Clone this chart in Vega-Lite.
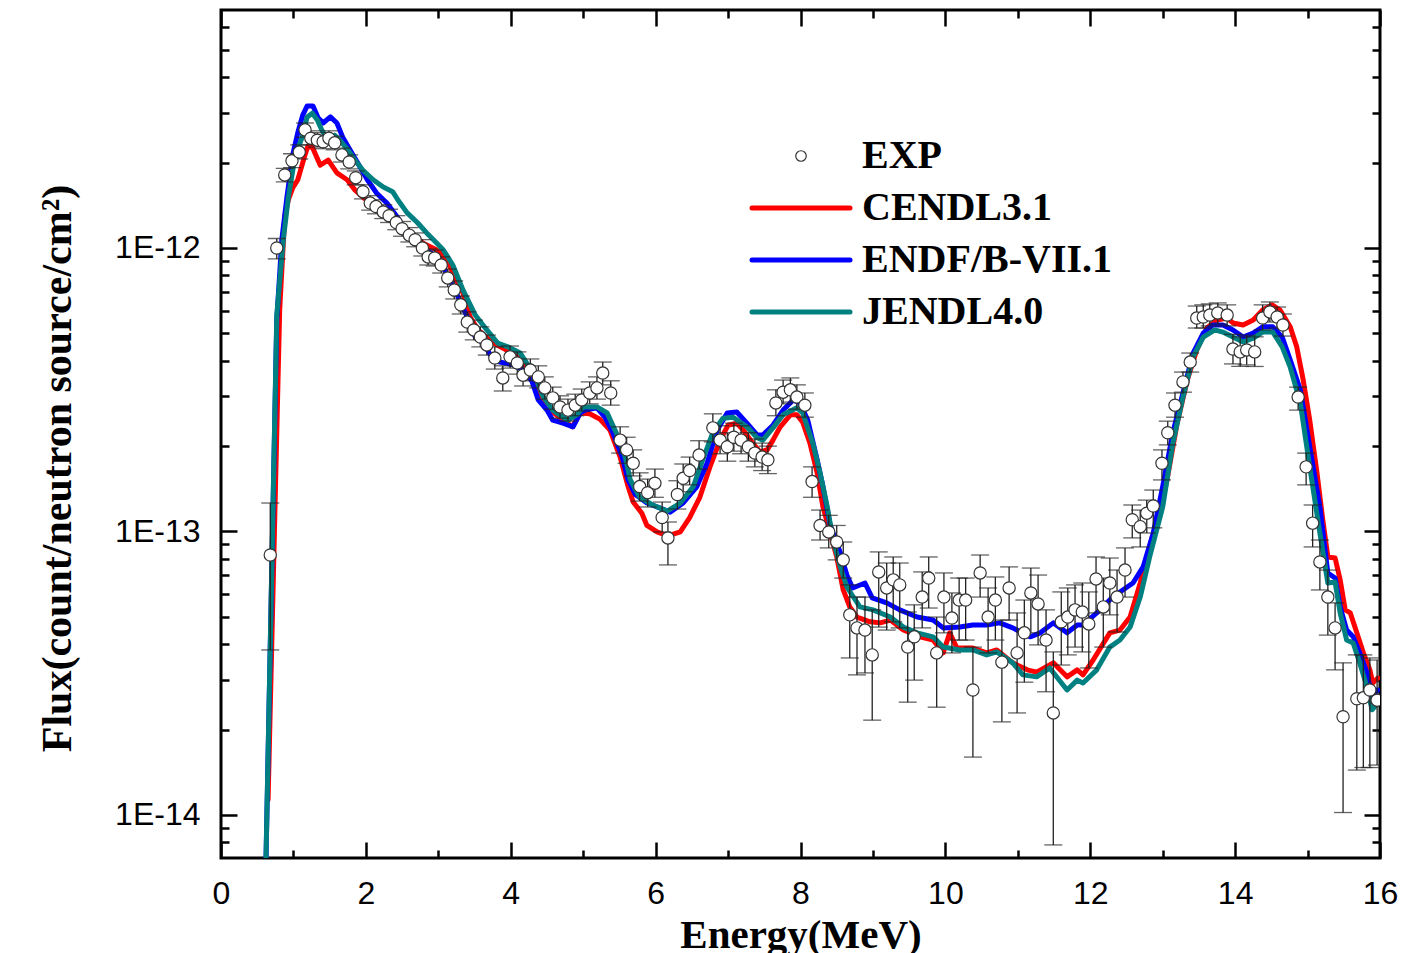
{
"$schema": "https://vega.github.io/schema/vega-lite/v6.json",
"width": 1159, "height": 848,
"autosize": {"type": "none"},
"padding": {"left": 221, "top": 10, "right": 23, "bottom": 95},
"background": "white",
"config": {"view": {"stroke": "black", "strokeWidth": 3}, "axis": {"grid": false, "domain": false}},
"datasets": {
"exp": [
{"E":0.68,"F":8.26e-14,"lo":3.82e-14,"hi":1.26e-13},
{"E":0.77,"F":1.00e-12,"lo":9.15e-13,"hi":1.08e-12},
{"E":0.88,"F":1.81e-12,"lo":1.71e-12,"hi":1.91e-12},
{"E":0.98,"F":2.03e-12,"lo":1.92e-12,"hi":2.15e-12},
{"E":1.08,"F":2.18e-12,"lo":2.06e-12,"hi":2.31e-12},
{"E":1.16,"F":2.61e-12,"lo":2.46e-12,"hi":2.76e-12},
{"E":1.24,"F":2.44e-12,"lo":2.31e-12,"hi":2.59e-12},
{"E":1.33,"F":2.40e-12,"lo":2.27e-12,"hi":2.55e-12},
{"E":1.41,"F":2.37e-12,"lo":2.24e-12,"hi":2.50e-12},
{"E":1.49,"F":2.44e-12,"lo":2.31e-12,"hi":2.59e-12},
{"E":1.57,"F":2.35e-12,"lo":2.22e-12,"hi":2.48e-12},
{"E":1.67,"F":2.13e-12,"lo":2.01e-12,"hi":2.25e-12},
{"E":1.77,"F":2.01e-12,"lo":1.90e-12,"hi":2.13e-12},
{"E":1.86,"F":1.77e-12,"lo":1.67e-12,"hi":1.87e-12},
{"E":1.96,"F":1.58e-12,"lo":1.49e-12,"hi":1.67e-12},
{"E":2.06,"F":1.44e-12,"lo":1.36e-12,"hi":1.53e-12},
{"E":2.14,"F":1.40e-12,"lo":1.32e-12,"hi":1.48e-12},
{"E":2.24,"F":1.34e-12,"lo":1.27e-12,"hi":1.42e-12},
{"E":2.32,"F":1.30e-12,"lo":1.23e-12,"hi":1.37e-12},
{"E":2.42,"F":1.23e-12,"lo":1.16e-12,"hi":1.30e-12},
{"E":2.50,"F":1.17e-12,"lo":1.10e-12,"hi":1.24e-12},
{"E":2.60,"F":1.11e-12,"lo":1.05e-12,"hi":1.18e-12},
{"E":2.68,"F":1.07e-12,"lo":1.01e-12,"hi":1.13e-12},
{"E":2.78,"F":1.00e-12,"lo":9.37e-13,"hi":1.07e-12},
{"E":2.86,"F":9.30e-13,"lo":8.71e-13,"hi":9.92e-13},
{"E":2.95,"F":9.22e-13,"lo":8.64e-13,"hi":9.84e-13},
{"E":3.04,"F":8.71e-13,"lo":8.16e-13,"hi":9.30e-13},
{"E":3.13,"F":7.84e-13,"lo":7.29e-13,"hi":8.43e-13},
{"E":3.22,"F":7.11e-13,"lo":6.61e-13,"hi":7.65e-13},
{"E":3.31,"F":6.30e-13,"lo":5.85e-13,"hi":6.77e-13},
{"E":3.40,"F":5.48e-13,"lo":5.05e-13,"hi":5.95e-13},
{"E":3.49,"F":5.14e-13,"lo":4.74e-13,"hi":5.57e-13},
{"E":3.58,"F":4.85e-13,"lo":4.48e-13,"hi":5.27e-13},
{"E":3.67,"F":4.55e-13,"lo":4.19e-13,"hi":4.93e-13},
{"E":3.78,"F":4.09e-13,"lo":3.74e-13,"hi":4.48e-13},
{"E":3.89,"F":3.48e-13,"lo":3.13e-13,"hi":3.84e-13},
{"E":3.99,"F":4.13e-13,"lo":3.77e-13,"hi":4.51e-13},
{"E":4.09,"F":3.93e-13,"lo":3.59e-13,"hi":4.30e-13},
{"E":4.17,"F":3.56e-13,"lo":3.26e-13,"hi":3.90e-13},
{"E":4.27,"F":3.71e-13,"lo":3.40e-13,"hi":4.06e-13},
{"E":4.38,"F":3.51e-13,"lo":3.21e-13,"hi":3.84e-13},
{"E":4.47,"F":3.21e-13,"lo":2.93e-13,"hi":3.51e-13},
{"E":4.58,"F":2.96e-13,"lo":2.70e-13,"hi":3.23e-13},
{"E":4.68,"F":2.75e-13,"lo":2.51e-13,"hi":3.01e-13},
{"E":4.79,"F":2.68e-13,"lo":2.45e-13,"hi":2.93e-13},
{"E":4.89,"F":2.79e-13,"lo":2.56e-13,"hi":3.05e-13},
{"E":4.98,"F":2.91e-13,"lo":2.66e-13,"hi":3.18e-13},
{"E":5.09,"F":3.08e-13,"lo":2.82e-13,"hi":3.37e-13},
{"E":5.19,"F":3.21e-13,"lo":2.93e-13,"hi":3.51e-13},
{"E":5.27,"F":3.62e-13,"lo":3.29e-13,"hi":3.96e-13},
{"E":5.38,"F":3.08e-13,"lo":2.79e-13,"hi":3.40e-13},
{"E":5.51,"F":2.10e-13,"lo":1.89e-13,"hi":2.34e-13},
{"E":5.60,"F":1.94e-13,"lo":1.74e-13,"hi":2.15e-13},
{"E":5.69,"F":1.74e-13,"lo":1.57e-13,"hi":1.94e-13},
{"E":5.78,"F":1.44e-13,"lo":1.28e-13,"hi":1.61e-13},
{"E":5.89,"F":1.37e-13,"lo":1.22e-13,"hi":1.53e-13},
{"E":5.99,"F":1.48e-13,"lo":1.32e-13,"hi":1.66e-13},
{"E":6.09,"F":1.12e-13,"lo":9.96e-14,"hi":1.27e-13},
{"E":6.17,"F":9.49e-14,"lo":7.62e-14,"hi":1.08e-13},
{"E":6.30,"F":1.35e-13,"lo":1.20e-13,"hi":1.51e-13},
{"E":6.38,"F":1.54e-13,"lo":1.38e-13,"hi":1.73e-13},
{"E":6.47,"F":1.64e-13,"lo":1.46e-13,"hi":1.83e-13},
{"E":6.60,"F":1.86e-13,"lo":1.66e-13,"hi":2.09e-13},
{"E":6.79,"F":2.32e-13,"lo":2.07e-13,"hi":2.60e-13},
{"E":6.89,"F":2.10e-13,"lo":1.88e-13,"hi":2.36e-13},
{"E":6.99,"F":1.99e-13,"lo":1.77e-13,"hi":2.23e-13},
{"E":7.08,"F":2.15e-13,"lo":1.92e-13,"hi":2.41e-13},
{"E":7.18,"F":2.10e-13,"lo":1.88e-13,"hi":2.36e-13},
{"E":7.28,"F":1.99e-13,"lo":1.77e-13,"hi":2.23e-13},
{"E":7.37,"F":1.89e-13,"lo":1.69e-13,"hi":2.12e-13},
{"E":7.47,"F":1.83e-13,"lo":1.64e-13,"hi":2.05e-13},
{"E":7.55,"F":1.79e-13,"lo":1.60e-13,"hi":2.00e-13},
{"E":7.66,"F":2.84e-13,"lo":2.56e-13,"hi":3.16e-13},
{"E":7.76,"F":3.10e-13,"lo":2.82e-13,"hi":3.42e-13},
{"E":7.86,"F":3.16e-13,"lo":2.86e-13,"hi":3.48e-13},
{"E":7.95,"F":2.98e-13,"lo":2.70e-13,"hi":3.29e-13},
{"E":8.06,"F":2.79e-13,"lo":2.53e-13,"hi":3.08e-13},
{"E":8.16,"F":1.50e-13,"lo":1.32e-13,"hi":1.69e-13},
{"E":8.27,"F":1.05e-13,"lo":9.33e-14,"hi":1.19e-13},
{"E":8.39,"F":9.96e-14,"lo":8.75e-14,"hi":1.14e-13},
{"E":8.50,"F":9.18e-14,"lo":7.94e-14,"hi":1.05e-13},
{"E":8.59,"F":7.94e-14,"lo":6.85e-14,"hi":9.18e-14},
{"E":8.68,"F":5.08e-14,"lo":3.58e-14,"hi":6.48e-14},
{"E":8.78,"F":4.57e-14,"lo":3.12e-14,"hi":5.87e-14},
{"E":8.89,"F":4.49e-14,"lo":3.17e-14,"hi":5.87e-14},
{"E":8.99,"F":3.67e-14,"lo":2.16e-14,"hi":5.29e-14},
{"E":9.08,"F":7.20e-14,"lo":4.60e-14,"hi":8.47e-14},
{"E":9.19,"F":6.32e-14,"lo":4.49e-14,"hi":7.74e-14},
{"E":9.28,"F":6.75e-14,"lo":4.80e-14,"hi":8.13e-14},
{"E":9.37,"F":6.48e-14,"lo":4.57e-14,"hi":7.74e-14},
{"E":9.48,"F":3.91e-14,"lo":2.50e-14,"hi":5.20e-14},
{"E":9.57,"F":4.25e-14,"lo":2.99e-14,"hi":5.51e-14},
{"E":9.68,"F":5.87e-14,"lo":4.57e-14,"hi":7.20e-14},
{"E":9.77,"F":6.85e-14,"lo":5.37e-14,"hi":8.13e-14},
{"E":9.88,"F":3.73e-14,"lo":2.40e-14,"hi":4.99e-14},
{"E":9.98,"F":5.87e-14,"lo":4.39e-14,"hi":7.14e-14},
{"E":10.09,"F":4.95e-14,"lo":3.73e-14,"hi":6.07e-14},
{"E":10.19,"F":5.73e-14,"lo":4.14e-14,"hi":6.85e-14},
{"E":10.28,"F":5.73e-14,"lo":4.14e-14,"hi":6.85e-14},
{"E":10.38,"F":2.76e-14,"lo":1.60e-14,"hi":3.91e-14},
{"E":10.48,"F":7.14e-14,"lo":5.87e-14,"hi":8.26e-14},
{"E":10.59,"F":4.99e-14,"lo":3.73e-14,"hi":6.32e-14},
{"E":10.69,"F":5.73e-14,"lo":4.14e-14,"hi":6.91e-14},
{"E":10.78,"F":3.46e-14,"lo":2.13e-14,"hi":4.87e-14},
{"E":10.88,"F":6.32e-14,"lo":4.87e-14,"hi":7.50e-14},
{"E":10.99,"F":3.73e-14,"lo":2.29e-14,"hi":5.16e-14},
{"E":11.09,"F":4.39e-14,"lo":2.94e-14,"hi":5.73e-14},
{"E":11.18,"F":6.07e-14,"lo":4.39e-14,"hi":7.43e-14},
{"E":11.28,"F":5.55e-14,"lo":3.98e-14,"hi":7.02e-14},
{"E":11.39,"F":4.14e-14,"lo":2.72e-14,"hi":5.29e-14},
{"E":11.49,"F":2.29e-14,"lo":7.84e-15,"hi":3.76e-14},
{"E":11.60,"F":4.80e-14,"lo":3.38e-14,"hi":6.12e-14},
{"E":11.69,"F":4.99e-14,"lo":3.67e-14,"hi":6.32e-14},
{"E":11.79,"F":5.29e-14,"lo":3.91e-14,"hi":6.48e-14},
{"E":11.89,"F":5.20e-14,"lo":3.76e-14,"hi":6.58e-14},
{"E":11.98,"F":4.72e-14,"lo":3.30e-14,"hi":6.12e-14},
{"E":12.08,"F":6.80e-14,"lo":5.16e-14,"hi":8.13e-14},
{"E":12.18,"F":5.42e-14,"lo":3.91e-14,"hi":6.85e-14},
{"E":12.27,"F":6.58e-14,"lo":5.08e-14,"hi":8.06e-14},
{"E":12.37,"F":5.87e-14,"lo":4.42e-14,"hi":7.31e-14},
{"E":12.48,"F":7.31e-14,"lo":5.87e-14,"hi":8.75e-14},
{"E":12.58,"F":1.10e-13,"lo":9.49e-14,"hi":1.24e-13},
{"E":12.69,"F":1.04e-13,"lo":8.82e-14,"hi":1.19e-13},
{"E":12.78,"F":1.16e-13,"lo":9.88e-14,"hi":1.29e-13},
{"E":12.87,"F":1.23e-13,"lo":1.03e-13,"hi":1.40e-13},
{"E":12.99,"F":1.74e-13,"lo":1.52e-13,"hi":1.94e-13},
{"E":13.07,"F":2.23e-13,"lo":2.02e-13,"hi":2.45e-13},
{"E":13.17,"F":2.79e-13,"lo":2.53e-13,"hi":3.08e-13},
{"E":13.28,"F":3.37e-13,"lo":3.10e-13,"hi":3.65e-13},
{"E":13.38,"F":3.96e-13,"lo":3.65e-13,"hi":4.26e-13},
{"E":13.47,"F":5.66e-13,"lo":5.22e-13,"hi":6.24e-13},
{"E":13.56,"F":5.71e-13,"lo":5.22e-13,"hi":6.30e-13},
{"E":13.65,"F":5.80e-13,"lo":5.31e-13,"hi":6.35e-13},
{"E":13.76,"F":5.90e-13,"lo":5.39e-13,"hi":6.40e-13},
{"E":13.89,"F":5.80e-13,"lo":5.31e-13,"hi":6.30e-13},
{"E":13.97,"F":4.40e-13,"lo":3.90e-13,"hi":4.96e-13},
{"E":14.07,"F":4.30e-13,"lo":3.82e-13,"hi":4.86e-13},
{"E":14.16,"F":4.37e-13,"lo":3.87e-13,"hi":4.93e-13},
{"E":14.27,"F":4.30e-13,"lo":3.82e-13,"hi":4.86e-13},
{"E":14.38,"F":5.66e-13,"lo":5.14e-13,"hi":6.30e-13},
{"E":14.48,"F":5.95e-13,"lo":5.48e-13,"hi":6.45e-13},
{"E":14.58,"F":5.71e-13,"lo":5.22e-13,"hi":6.19e-13},
{"E":14.66,"F":5.35e-13,"lo":4.89e-13,"hi":5.85e-13},
{"E":14.87,"F":2.98e-13,"lo":2.68e-13,"hi":3.23e-13},
{"E":14.98,"F":1.69e-13,"lo":1.46e-13,"hi":1.89e-13},
{"E":15.07,"F":1.07e-13,"lo":8.82e-14,"hi":1.24e-13},
{"E":15.17,"F":7.81e-14,"lo":6.22e-14,"hi":9.33e-14},
{"E":15.28,"F":5.87e-14,"lo":4.31e-14,"hi":7.31e-14},
{"E":15.38,"F":4.57e-14,"lo":3.25e-14,"hi":5.60e-14},
{"E":15.49,"F":2.22e-14,"lo":1.02e-14,"hi":3.44e-14},
{"E":15.68,"F":2.57e-14,"lo":1.44e-14,"hi":3.67e-14},
{"E":15.77,"F":2.59e-14,"lo":1.47e-14,"hi":3.67e-14},
{"E":15.86,"F":2.76e-14,"lo":1.47e-14,"hi":3.58e-14},
{"E":15.96,"F":2.54e-14,"lo":1.50e-14,"hi":3.52e-14}
],
"calc": [
{"lib":"CENDL3.1","E":0.65,"F":1.13e-14},{"lib":"CENDL3.1","E":0.81,"F":6.04e-13},{"lib":"CENDL3.1","E":0.88,"F":1.29e-12},{"lib":"CENDL3.1","E":0.93,"F":1.48e-12},{"lib":"CENDL3.1","E":0.99,"F":1.63e-12},{"lib":"CENDL3.1","E":1.06,"F":1.74e-12},{"lib":"CENDL3.1","E":1.16,"F":2.13e-12},{"lib":"CENDL3.1","E":1.20,"F":2.29e-12},{"lib":"CENDL3.1","E":1.26,"F":2.27e-12},{"lib":"CENDL3.1","E":1.37,"F":1.96e-12},{"lib":"CENDL3.1","E":1.48,"F":2.04e-12},{"lib":"CENDL3.1","E":1.60,"F":1.84e-12},{"lib":"CENDL3.1","E":1.74,"F":1.74e-12},{"lib":"CENDL3.1","E":1.85,"F":1.60e-12},{"lib":"CENDL3.1","E":1.96,"F":1.51e-12},{"lib":"CENDL3.1","E":2.06,"F":1.44e-12},{"lib":"CENDL3.1","E":2.20,"F":1.36e-12},{"lib":"CENDL3.1","E":2.37,"F":1.29e-12},{"lib":"CENDL3.1","E":2.57,"F":1.16e-12},{"lib":"CENDL3.1","E":2.79,"F":1.04e-12},{"lib":"CENDL3.1","E":2.98,"F":9.84e-13},{"lib":"CENDL3.1","E":3.12,"F":9.07e-13},{"lib":"CENDL3.1","E":3.20,"F":8.16e-13},{"lib":"CENDL3.1","E":3.34,"F":6.94e-13},{"lib":"CENDL3.1","E":3.44,"F":5.71e-13},{"lib":"CENDL3.1","E":3.55,"F":5.14e-13},{"lib":"CENDL3.1","E":3.76,"F":4.62e-13},{"lib":"CENDL3.1","E":3.89,"F":4.44e-13},{"lib":"CENDL3.1","E":4.09,"F":4.13e-13},{"lib":"CENDL3.1","E":4.22,"F":3.80e-13},{"lib":"CENDL3.1","E":4.34,"F":3.34e-13},{"lib":"CENDL3.1","E":4.45,"F":2.91e-13},{"lib":"CENDL3.1","E":4.58,"F":2.64e-13},{"lib":"CENDL3.1","E":4.72,"F":2.47e-13},{"lib":"CENDL3.1","E":4.85,"F":2.34e-13},{"lib":"CENDL3.1","E":4.96,"F":2.62e-13},{"lib":"CENDL3.1","E":5.09,"F":2.60e-13},{"lib":"CENDL3.1","E":5.23,"F":2.49e-13},{"lib":"CENDL3.1","E":5.37,"F":2.28e-13},{"lib":"CENDL3.1","E":5.51,"F":1.83e-13},{"lib":"CENDL3.1","E":5.62,"F":1.44e-13},{"lib":"CENDL3.1","E":5.69,"F":1.27e-13},{"lib":"CENDL3.1","E":5.81,"F":1.16e-13},{"lib":"CENDL3.1","E":5.88,"F":1.05e-13},{"lib":"CENDL3.1","E":6.02,"F":9.96e-14},{"lib":"CENDL3.1","E":6.17,"F":9.64e-14},{"lib":"CENDL3.1","E":6.34,"F":9.96e-14},{"lib":"CENDL3.1","E":6.47,"F":1.12e-13},{"lib":"CENDL3.1","E":6.61,"F":1.32e-13},{"lib":"CENDL3.1","E":6.75,"F":1.69e-13},{"lib":"CENDL3.1","E":6.89,"F":2.10e-13},{"lib":"CENDL3.1","E":7.00,"F":2.37e-13},{"lib":"CENDL3.1","E":7.12,"F":2.41e-13},{"lib":"CENDL3.1","E":7.21,"F":2.28e-13},{"lib":"CENDL3.1","E":7.34,"F":2.05e-13},{"lib":"CENDL3.1","E":7.44,"F":1.91e-13},{"lib":"CENDL3.1","E":7.54,"F":1.94e-13},{"lib":"CENDL3.1","E":7.62,"F":2.10e-13},{"lib":"CENDL3.1","E":7.72,"F":2.34e-13},{"lib":"CENDL3.1","E":7.86,"F":2.58e-13},{"lib":"CENDL3.1","E":7.95,"F":2.58e-13},{"lib":"CENDL3.1","E":8.03,"F":2.43e-13},{"lib":"CENDL3.1","E":8.13,"F":2.05e-13},{"lib":"CENDL3.1","E":8.23,"F":1.61e-13},{"lib":"CENDL3.1","E":8.31,"F":1.22e-13},{"lib":"CENDL3.1","E":8.41,"F":9.88e-14},{"lib":"CENDL3.1","E":8.50,"F":8.13e-14},{"lib":"CENDL3.1","E":8.59,"F":6.22e-14},{"lib":"CENDL3.1","E":8.68,"F":5.42e-14},{"lib":"CENDL3.1","E":8.78,"F":4.99e-14},{"lib":"CENDL3.1","E":8.96,"F":4.80e-14},{"lib":"CENDL3.1","E":9.10,"F":4.76e-14},{"lib":"CENDL3.1","E":9.24,"F":4.87e-14},{"lib":"CENDL3.1","E":9.42,"F":4.49e-14},{"lib":"CENDL3.1","E":9.65,"F":4.25e-14},{"lib":"CENDL3.1","E":9.83,"F":4.14e-14},{"lib":"CENDL3.1","E":9.97,"F":3.73e-14},{"lib":"CENDL3.1","E":10.06,"F":4.39e-14},{"lib":"CENDL3.1","E":10.16,"F":3.88e-14},{"lib":"CENDL3.1","E":10.38,"F":3.88e-14},{"lib":"CENDL3.1","E":10.57,"F":3.73e-14},{"lib":"CENDL3.1","E":10.71,"F":3.82e-14},{"lib":"CENDL3.1","E":10.93,"F":3.44e-14},{"lib":"CENDL3.1","E":11.13,"F":3.25e-14},{"lib":"CENDL3.1","E":11.26,"F":3.19e-14},{"lib":"CENDL3.1","E":11.49,"F":3.44e-14},{"lib":"CENDL3.1","E":11.68,"F":3.07e-14},{"lib":"CENDL3.1","E":11.82,"F":3.25e-14},{"lib":"CENDL3.1","E":11.90,"F":3.12e-14},{"lib":"CENDL3.1","E":12.04,"F":3.52e-14},{"lib":"CENDL3.1","E":12.27,"F":4.39e-14},{"lib":"CENDL3.1","E":12.41,"F":4.49e-14},{"lib":"CENDL3.1","E":12.55,"F":4.99e-14},{"lib":"CENDL3.1","E":12.69,"F":6.58e-14},{"lib":"CENDL3.1","E":12.82,"F":8.82e-14},{"lib":"CENDL3.1","E":12.96,"F":1.19e-13},{"lib":"CENDL3.1","E":13.06,"F":1.52e-13},{"lib":"CENDL3.1","E":13.20,"F":2.41e-13},{"lib":"CENDL3.1","E":13.34,"F":3.42e-13},{"lib":"CENDL3.1","E":13.47,"F":4.37e-13},{"lib":"CENDL3.1","E":13.61,"F":5.22e-13},{"lib":"CENDL3.1","E":13.75,"F":5.57e-13},{"lib":"CENDL3.1","E":13.89,"F":5.66e-13},{"lib":"CENDL3.1","E":13.97,"F":5.44e-13},{"lib":"CENDL3.1","E":14.11,"F":5.35e-13},{"lib":"CENDL3.1","E":14.25,"F":5.57e-13},{"lib":"CENDL3.1","E":14.38,"F":6.04e-13},{"lib":"CENDL3.1","E":14.51,"F":6.30e-13},{"lib":"CENDL3.1","E":14.62,"F":6.04e-13},{"lib":"CENDL3.1","E":14.76,"F":5.27e-13},{"lib":"CENDL3.1","E":14.85,"F":4.48e-13},{"lib":"CENDL3.1","E":14.94,"F":3.42e-13},{"lib":"CENDL3.1","E":15.03,"F":2.47e-13},{"lib":"CENDL3.1","E":15.13,"F":1.61e-13},{"lib":"CENDL3.1","E":15.21,"F":1.10e-13},{"lib":"CENDL3.1","E":15.28,"F":8.13e-14},{"lib":"CENDL3.1","E":15.38,"F":8.06e-14},{"lib":"CENDL3.1","E":15.45,"F":6.75e-14},{"lib":"CENDL3.1","E":15.52,"F":5.29e-14},{"lib":"CENDL3.1","E":15.59,"F":5.16e-14},{"lib":"CENDL3.1","E":15.68,"F":4.39e-14},{"lib":"CENDL3.1","E":15.77,"F":3.73e-14},{"lib":"CENDL3.1","E":15.86,"F":3.25e-14},{"lib":"CENDL3.1","E":15.90,"F":2.92e-14},{"lib":"CENDL3.1","E":15.97,"F":3.04e-14},
{"lib":"ENDF/B-VII.1","E":0.61,"F":5.0e-15},{"lib":"ENDF/B-VII.1","E":0.77,"F":5.57e-13},{"lib":"ENDF/B-VII.1","E":0.84,"F":1.07e-12},{"lib":"ENDF/B-VII.1","E":0.91,"F":1.51e-12},{"lib":"ENDF/B-VII.1","E":0.99,"F":2.13e-12},{"lib":"ENDF/B-VII.1","E":1.06,"F":2.55e-12},{"lib":"ENDF/B-VII.1","E":1.13,"F":2.95e-12},{"lib":"ENDF/B-VII.1","E":1.19,"F":3.17e-12},{"lib":"ENDF/B-VII.1","E":1.27,"F":3.17e-12},{"lib":"ENDF/B-VII.1","E":1.34,"F":2.88e-12},{"lib":"ENDF/B-VII.1","E":1.41,"F":2.76e-12},{"lib":"ENDF/B-VII.1","E":1.51,"F":2.90e-12},{"lib":"ENDF/B-VII.1","E":1.60,"F":2.76e-12},{"lib":"ENDF/B-VII.1","E":1.68,"F":2.46e-12},{"lib":"ENDF/B-VII.1","E":1.78,"F":2.22e-12},{"lib":"ENDF/B-VII.1","E":1.92,"F":1.93e-12},{"lib":"ENDF/B-VII.1","E":2.02,"F":1.74e-12},{"lib":"ENDF/B-VII.1","E":2.15,"F":1.56e-12},{"lib":"ENDF/B-VII.1","E":2.29,"F":1.44e-12},{"lib":"ENDF/B-VII.1","E":2.43,"F":1.29e-12},{"lib":"ENDF/B-VII.1","E":2.51,"F":1.19e-12},{"lib":"ENDF/B-VII.1","E":2.65,"F":1.07e-12},{"lib":"ENDF/B-VII.1","E":2.84,"F":9.84e-13},{"lib":"ENDF/B-VII.1","E":2.98,"F":9.30e-13},{"lib":"ENDF/B-VII.1","E":3.12,"F":8.10e-13},{"lib":"ENDF/B-VII.1","E":3.26,"F":6.83e-13},{"lib":"ENDF/B-VII.1","E":3.40,"F":5.71e-13},{"lib":"ENDF/B-VII.1","E":3.51,"F":4.85e-13},{"lib":"ENDF/B-VII.1","E":3.62,"F":4.62e-13},{"lib":"ENDF/B-VII.1","E":3.76,"F":4.03e-13},{"lib":"ENDF/B-VII.1","E":3.85,"F":3.96e-13},{"lib":"ENDF/B-VII.1","E":4.03,"F":3.87e-13},{"lib":"ENDF/B-VII.1","E":4.17,"F":3.71e-13},{"lib":"ENDF/B-VII.1","E":4.29,"F":3.40e-13},{"lib":"ENDF/B-VII.1","E":4.38,"F":2.91e-13},{"lib":"ENDF/B-VII.1","E":4.50,"F":2.68e-13},{"lib":"ENDF/B-VII.1","E":4.58,"F":2.47e-13},{"lib":"ENDF/B-VII.1","E":4.72,"F":2.41e-13},{"lib":"ENDF/B-VII.1","E":4.86,"F":2.34e-13},{"lib":"ENDF/B-VII.1","E":4.96,"F":2.62e-13},{"lib":"ENDF/B-VII.1","E":5.03,"F":2.68e-13},{"lib":"ENDF/B-VII.1","E":5.19,"F":2.73e-13},{"lib":"ENDF/B-VII.1","E":5.30,"F":2.53e-13},{"lib":"ENDF/B-VII.1","E":5.41,"F":2.23e-13},{"lib":"ENDF/B-VII.1","E":5.54,"F":1.83e-13},{"lib":"ENDF/B-VII.1","E":5.62,"F":1.52e-13},{"lib":"ENDF/B-VII.1","E":5.72,"F":1.35e-13},{"lib":"ENDF/B-VII.1","E":5.88,"F":1.26e-13},{"lib":"ENDF/B-VII.1","E":6.06,"F":1.21e-13},{"lib":"ENDF/B-VII.1","E":6.20,"F":1.17e-13},{"lib":"ENDF/B-VII.1","E":6.38,"F":1.26e-13},{"lib":"ENDF/B-VII.1","E":6.57,"F":1.44e-13},{"lib":"ENDF/B-VII.1","E":6.71,"F":1.74e-13},{"lib":"ENDF/B-VII.1","E":6.85,"F":2.28e-13},{"lib":"ENDF/B-VII.1","E":6.99,"F":2.62e-13},{"lib":"ENDF/B-VII.1","E":7.12,"F":2.64e-13},{"lib":"ENDF/B-VII.1","E":7.26,"F":2.41e-13},{"lib":"ENDF/B-VII.1","E":7.40,"F":2.19e-13},{"lib":"ENDF/B-VII.1","E":7.48,"F":2.19e-13},{"lib":"ENDF/B-VII.1","E":7.62,"F":2.37e-13},{"lib":"ENDF/B-VII.1","E":7.76,"F":2.68e-13},{"lib":"ENDF/B-VII.1","E":7.90,"F":2.91e-13},{"lib":"ENDF/B-VII.1","E":7.99,"F":2.84e-13},{"lib":"ENDF/B-VII.1","E":8.10,"F":2.47e-13},{"lib":"ENDF/B-VII.1","E":8.23,"F":1.79e-13},{"lib":"ENDF/B-VII.1","E":8.31,"F":1.44e-13},{"lib":"ENDF/B-VII.1","E":8.41,"F":1.05e-13},{"lib":"ENDF/B-VII.1","E":8.55,"F":8.40e-14},{"lib":"ENDF/B-VII.1","E":8.64,"F":7.02e-14},{"lib":"ENDF/B-VII.1","E":8.72,"F":6.32e-14},{"lib":"ENDF/B-VII.1","E":8.89,"F":6.58e-14},{"lib":"ENDF/B-VII.1","E":8.99,"F":5.83e-14},{"lib":"ENDF/B-VII.1","E":9.19,"F":5.60e-14},{"lib":"ENDF/B-VII.1","E":9.37,"F":5.29e-14},{"lib":"ENDF/B-VII.1","E":9.61,"F":4.99e-14},{"lib":"ENDF/B-VII.1","E":9.83,"F":4.87e-14},{"lib":"ENDF/B-VII.1","E":9.97,"F":4.57e-14},{"lib":"ENDF/B-VII.1","E":10.20,"F":4.60e-14},{"lib":"ENDF/B-VII.1","E":10.38,"F":4.68e-14},{"lib":"ENDF/B-VII.1","E":10.57,"F":4.68e-14},{"lib":"ENDF/B-VII.1","E":10.75,"F":4.76e-14},{"lib":"ENDF/B-VII.1","E":10.93,"F":4.57e-14},{"lib":"ENDF/B-VII.1","E":11.17,"F":4.25e-14},{"lib":"ENDF/B-VII.1","E":11.31,"F":4.39e-14},{"lib":"ENDF/B-VII.1","E":11.49,"F":4.76e-14},{"lib":"ENDF/B-VII.1","E":11.68,"F":4.39e-14},{"lib":"ENDF/B-VII.1","E":11.82,"F":4.68e-14},{"lib":"ENDF/B-VII.1","E":11.90,"F":4.68e-14},{"lib":"ENDF/B-VII.1","E":12.09,"F":5.16e-14},{"lib":"ENDF/B-VII.1","E":12.31,"F":5.87e-14},{"lib":"ENDF/B-VII.1","E":12.45,"F":6.22e-14},{"lib":"ENDF/B-VII.1","E":12.59,"F":6.58e-14},{"lib":"ENDF/B-VII.1","E":12.73,"F":7.50e-14},{"lib":"ENDF/B-VII.1","E":12.87,"F":9.88e-14},{"lib":"ENDF/B-VII.1","E":13.00,"F":1.44e-13},{"lib":"ENDF/B-VII.1","E":13.14,"F":2.23e-13},{"lib":"ENDF/B-VII.1","E":13.28,"F":3.08e-13},{"lib":"ENDF/B-VII.1","E":13.42,"F":4.26e-13},{"lib":"ENDF/B-VII.1","E":13.56,"F":5.01e-13},{"lib":"ENDF/B-VII.1","E":13.69,"F":5.35e-13},{"lib":"ENDF/B-VII.1","E":13.83,"F":5.35e-13},{"lib":"ENDF/B-VII.1","E":13.97,"F":5.14e-13},{"lib":"ENDF/B-VII.1","E":14.11,"F":4.85e-13},{"lib":"ENDF/B-VII.1","E":14.25,"F":5.01e-13},{"lib":"ENDF/B-VII.1","E":14.38,"F":5.27e-13},{"lib":"ENDF/B-VII.1","E":14.52,"F":5.27e-13},{"lib":"ENDF/B-VII.1","E":14.65,"F":4.85e-13},{"lib":"ENDF/B-VII.1","E":14.76,"F":4.03e-13},{"lib":"ENDF/B-VII.1","E":14.90,"F":3.16e-13},{"lib":"ENDF/B-VII.1","E":15.03,"F":1.99e-13},{"lib":"ENDF/B-VII.1","E":15.17,"F":1.22e-13},{"lib":"ENDF/B-VII.1","E":15.28,"F":7.14e-14},{"lib":"ENDF/B-VII.1","E":15.38,"F":6.85e-14},{"lib":"ENDF/B-VII.1","E":15.45,"F":5.42e-14},{"lib":"ENDF/B-VII.1","E":15.54,"F":4.49e-14},{"lib":"ENDF/B-VII.1","E":15.63,"F":4.25e-14},{"lib":"ENDF/B-VII.1","E":15.72,"F":3.73e-14},{"lib":"ENDF/B-VII.1","E":15.82,"F":3.17e-14},{"lib":"ENDF/B-VII.1","E":15.89,"F":2.61e-14},{"lib":"ENDF/B-VII.1","E":15.97,"F":2.76e-14},
{"lib":"JENDL4.0","E":0.61,"F":5.0e-15},{"lib":"JENDL4.0","E":0.77,"F":5.80e-13},{"lib":"JENDL4.0","E":0.86,"F":1.07e-12},{"lib":"JENDL4.0","E":0.93,"F":1.51e-12},{"lib":"JENDL4.0","E":1.02,"F":2.09e-12},{"lib":"JENDL4.0","E":1.12,"F":2.46e-12},{"lib":"JENDL4.0","E":1.19,"F":2.90e-12},{"lib":"JENDL4.0","E":1.26,"F":2.99e-12},{"lib":"JENDL4.0","E":1.33,"F":2.83e-12},{"lib":"JENDL4.0","E":1.39,"F":2.61e-12},{"lib":"JENDL4.0","E":1.46,"F":2.44e-12},{"lib":"JENDL4.0","E":1.57,"F":2.50e-12},{"lib":"JENDL4.0","E":1.64,"F":2.40e-12},{"lib":"JENDL4.0","E":1.75,"F":2.22e-12},{"lib":"JENDL4.0","E":1.85,"F":2.04e-12},{"lib":"JENDL4.0","E":1.96,"F":1.88e-12},{"lib":"JENDL4.0","E":2.10,"F":1.74e-12},{"lib":"JENDL4.0","E":2.24,"F":1.64e-12},{"lib":"JENDL4.0","E":2.37,"F":1.58e-12},{"lib":"JENDL4.0","E":2.44,"F":1.48e-12},{"lib":"JENDL4.0","E":2.57,"F":1.33e-12},{"lib":"JENDL4.0","E":2.71,"F":1.23e-12},{"lib":"JENDL4.0","E":2.84,"F":1.13e-12},{"lib":"JENDL4.0","E":2.98,"F":1.04e-12},{"lib":"JENDL4.0","E":3.07,"F":9.84e-13},{"lib":"JENDL4.0","E":3.20,"F":8.71e-13},{"lib":"JENDL4.0","E":3.34,"F":7.11e-13},{"lib":"JENDL4.0","E":3.51,"F":5.80e-13},{"lib":"JENDL4.0","E":3.67,"F":5.14e-13},{"lib":"JENDL4.0","E":3.82,"F":4.62e-13},{"lib":"JENDL4.0","E":3.96,"F":4.48e-13},{"lib":"JENDL4.0","E":4.13,"F":4.26e-13},{"lib":"JENDL4.0","E":4.22,"F":3.93e-13},{"lib":"JENDL4.0","E":4.34,"F":3.51e-13},{"lib":"JENDL4.0","E":4.45,"F":2.98e-13},{"lib":"JENDL4.0","E":4.58,"F":2.68e-13},{"lib":"JENDL4.0","E":4.72,"F":2.53e-13},{"lib":"JENDL4.0","E":4.79,"F":2.47e-13},{"lib":"JENDL4.0","E":4.91,"F":2.58e-13},{"lib":"JENDL4.0","E":5.00,"F":2.75e-13},{"lib":"JENDL4.0","E":5.19,"F":2.75e-13},{"lib":"JENDL4.0","E":5.33,"F":2.62e-13},{"lib":"JENDL4.0","E":5.47,"F":2.19e-13},{"lib":"JENDL4.0","E":5.58,"F":1.83e-13},{"lib":"JENDL4.0","E":5.65,"F":1.52e-13},{"lib":"JENDL4.0","E":5.78,"F":1.32e-13},{"lib":"JENDL4.0","E":5.96,"F":1.24e-13},{"lib":"JENDL4.0","E":6.16,"F":1.18e-13},{"lib":"JENDL4.0","E":6.34,"F":1.26e-13},{"lib":"JENDL4.0","E":6.52,"F":1.44e-13},{"lib":"JENDL4.0","E":6.65,"F":1.79e-13},{"lib":"JENDL4.0","E":6.79,"F":2.23e-13},{"lib":"JENDL4.0","E":6.93,"F":2.51e-13},{"lib":"JENDL4.0","E":7.07,"F":2.53e-13},{"lib":"JENDL4.0","E":7.26,"F":2.34e-13},{"lib":"JENDL4.0","E":7.40,"F":2.14e-13},{"lib":"JENDL4.0","E":7.48,"F":2.10e-13},{"lib":"JENDL4.0","E":7.62,"F":2.32e-13},{"lib":"JENDL4.0","E":7.76,"F":2.58e-13},{"lib":"JENDL4.0","E":7.95,"F":2.73e-13},{"lib":"JENDL4.0","E":8.03,"F":2.62e-13},{"lib":"JENDL4.0","E":8.17,"F":2.05e-13},{"lib":"JENDL4.0","E":8.27,"F":1.61e-13},{"lib":"JENDL4.0","E":8.37,"F":1.22e-13},{"lib":"JENDL4.0","E":8.45,"F":9.33e-14},{"lib":"JENDL4.0","E":8.55,"F":7.50e-14},{"lib":"JENDL4.0","E":8.64,"F":6.37e-14},{"lib":"JENDL4.0","E":8.82,"F":5.42e-14},{"lib":"JENDL4.0","E":9.00,"F":5.29e-14},{"lib":"JENDL4.0","E":9.24,"F":4.99e-14},{"lib":"JENDL4.0","E":9.42,"F":4.60e-14},{"lib":"JENDL4.0","E":9.61,"F":4.39e-14},{"lib":"JENDL4.0","E":9.83,"F":4.25e-14},{"lib":"JENDL4.0","E":9.97,"F":3.91e-14},{"lib":"JENDL4.0","E":10.20,"F":3.82e-14},{"lib":"JENDL4.0","E":10.38,"F":3.82e-14},{"lib":"JENDL4.0","E":10.57,"F":3.67e-14},{"lib":"JENDL4.0","E":10.71,"F":3.76e-14},{"lib":"JENDL4.0","E":10.93,"F":3.44e-14},{"lib":"JENDL4.0","E":11.07,"F":3.12e-14},{"lib":"JENDL4.0","E":11.26,"F":3.07e-14},{"lib":"JENDL4.0","E":11.44,"F":3.30e-14},{"lib":"JENDL4.0","E":11.68,"F":2.76e-14},{"lib":"JENDL4.0","E":11.82,"F":2.99e-14},{"lib":"JENDL4.0","E":11.90,"F":2.92e-14},{"lib":"JENDL4.0","E":12.09,"F":3.25e-14},{"lib":"JENDL4.0","E":12.27,"F":3.91e-14},{"lib":"JENDL4.0","E":12.41,"F":4.14e-14},{"lib":"JENDL4.0","E":12.55,"F":4.60e-14},{"lib":"JENDL4.0","E":12.69,"F":5.87e-14},{"lib":"JENDL4.0","E":12.82,"F":8.13e-14},{"lib":"JENDL4.0","E":13.00,"F":1.22e-13},{"lib":"JENDL4.0","E":13.14,"F":2.05e-13},{"lib":"JENDL4.0","E":13.28,"F":2.98e-13},{"lib":"JENDL4.0","E":13.42,"F":4.13e-13},{"lib":"JENDL4.0","E":13.56,"F":4.85e-13},{"lib":"JENDL4.0","E":13.72,"F":5.14e-13},{"lib":"JENDL4.0","E":13.83,"F":5.05e-13},{"lib":"JENDL4.0","E":13.97,"F":4.85e-13},{"lib":"JENDL4.0","E":14.11,"F":4.66e-13},{"lib":"JENDL4.0","E":14.25,"F":4.81e-13},{"lib":"JENDL4.0","E":14.38,"F":5.05e-13},{"lib":"JENDL4.0","E":14.52,"F":5.05e-13},{"lib":"JENDL4.0","E":14.65,"F":4.48e-13},{"lib":"JENDL4.0","E":14.76,"F":3.80e-13},{"lib":"JENDL4.0","E":14.90,"F":2.84e-13},{"lib":"JENDL4.0","E":15.03,"F":1.69e-13},{"lib":"JENDL4.0","E":15.17,"F":9.88e-14},{"lib":"JENDL4.0","E":15.28,"F":6.58e-14},{"lib":"JENDL4.0","E":15.38,"F":6.63e-14},{"lib":"JENDL4.0","E":15.45,"F":5.16e-14},{"lib":"JENDL4.0","E":15.54,"F":4.14e-14},{"lib":"JENDL4.0","E":15.63,"F":4.04e-14},{"lib":"JENDL4.0","E":15.72,"F":3.44e-14},{"lib":"JENDL4.0","E":15.82,"F":2.83e-14},{"lib":"JENDL4.0","E":15.89,"F":2.35e-14},{"lib":"JENDL4.0","E":15.97,"F":2.48e-14}
]
},
"layer": [
{
"data": {"name": "calc"},
"mark": {"type": "line", "strokeWidth": 5, "clip": true, "strokeJoin": "round", "strokeCap": "round"},
"encoding": {
"x": {"field": "E", "type": "quantitative", "scale": {"domain": [0, 16], "nice": false, "zero": false},
"axis": {"orient": "bottom", "values": [0,2,4,6,8,10,12,14,16], "format": "d", "tickSize": -16, "tickWidth": 2.5, "tickColor": "black", "labelFont": "Liberation Sans", "labelFontSize": 32, "labelColor": "black", "labelPadding": 36, "labelFlush": false, "labelOverlap": false, "labelBound": false, "title": "Energy(MeV)", "titleFont": "Liberation Serif", "titleFontWeight": "bold", "titleFontSize": 41, "titleColor": "black", "titlePadding": 6}},
"y": {"field": "F", "type": "quantitative", "scale": {"type": "log", "domain": [7.05e-15, 6.91e-12], "nice": false},
"axis": {"orient": "left", "values": [1e-14, 1e-13, 1e-12], "labelExpr": "'1E' + round(log(datum.value)/LN10)", "tickSize": -16, "tickWidth": 2.5, "tickColor": "black", "labelFont": "Liberation Sans", "labelFontSize": 32, "labelColor": "black", "labelPadding": 37, "labelOverlap": false, "labelBound": false, "labelFlush": false, "title": "Flux(count/neutron source/cm²)", "titleFont": "Liberation Serif", "titleFontWeight": "bold", "titleFontSize": 42, "titleColor": "black", "titleAngle": -90, "titleBaseline": "alphabetic", "titleAlign": "center", "titleX": -151, "titleY": 458}},
"color": {"field": "lib", "type": "nominal",
"scale": {"domain": ["EXP", "CENDL3.1", "ENDF/B-VII.1", "JENDL4.0"], "range": ["#333333", "#ff0000", "#0000ff", "#008080"]},
"legend": {"title": null, "orient": "none", "legendX": 560, "legendY": 126, "padding": 0, "symbolType": "stroke", "symbolSize": 9604, "symbolStrokeWidth": 5, "labelFont": "Liberation Serif", "labelFontWeight": "bold", "labelFontSize": 40, "labelColor": "black", "labelOffset": 41, "rowPadding": 12, "labelLimit": 0,
"encode": {"symbols": {"update": {
"shape": {"signal": "datum.value === 'EXP' ? 'circle' : 'stroke'"},
"size": {"signal": "datum.value === 'EXP' ? 110 : 9604"},
"strokeWidth": {"signal": "datum.value === 'EXP' ? 1.2 : 5"},
"fill": {"value": "white"},
"strokeCap": {"value": "round"}}}}}}
}
},
{
"data": {"name": "exp"},
"mark": {"type": "rule", "color": "#222222", "strokeWidth": 1.3, "clip": true},
"encoding": {
"x": {"field": "E", "type": "quantitative", "scale": {"domain": [0, 16], "nice": false, "zero": false},
"axis": {"orient": "bottom", "values": [1,3,5,7,9,11,13,15], "tickSize": -8, "tickWidth": 2.5, "tickColor": "black", "labels": false, "title": null}},
"y": {"field": "lo", "type": "quantitative", "scale": {"type": "log", "domain": [7.05e-15, 6.91e-12], "nice": false},
"axis": {"orient": "left", "values": [8e-15,9e-15,2e-14,3e-14,4e-14,5e-14,6e-14,7e-14,8e-14,9e-14,2e-13,3e-13,4e-13,5e-13,6e-13,7e-13,8e-13,9e-13,2e-12,3e-12,4e-12,5e-12,6e-12], "tickSize": -8, "tickWidth": 2.5, "tickColor": "black", "labels": false, "title": null}},
"y2": {"field": "hi"}
}
},
{
"data": {"name": "exp"},
"mark": {"type": "tick", "orient": "horizontal", "size": 18, "thickness": 1.3, "color": "#222222", "clip": true},
"encoding": {
"x": {"field": "E", "type": "quantitative", "scale": {"domain": [0, 16], "nice": false, "zero": false},
"axis": {"orient": "top", "values": [0,2,4,6,8,10,12,14,16], "tickSize": -16, "tickWidth": 2.5, "tickColor": "black", "labels": false, "title": null}},
"y": {"field": "lo", "type": "quantitative", "scale": {"type": "log", "domain": [7.05e-15, 6.91e-12], "nice": false},
"axis": {"orient": "right", "values": [1e-14, 1e-13, 1e-12], "tickSize": -16, "tickWidth": 2.5, "tickColor": "black", "labels": false, "title": null}}
}
},
{
"data": {"name": "exp"},
"mark": {"type": "tick", "orient": "horizontal", "size": 18, "thickness": 1.3, "color": "#222222", "clip": true},
"encoding": {
"x": {"field": "E", "type": "quantitative", "scale": {"domain": [0, 16], "nice": false, "zero": false},
"axis": {"orient": "top", "values": [1,3,5,7,9,11,13,15], "tickSize": -8, "tickWidth": 2.5, "tickColor": "black", "labels": false, "title": null}},
"y": {"field": "hi", "type": "quantitative", "scale": {"type": "log", "domain": [7.05e-15, 6.91e-12], "nice": false},
"axis": {"orient": "right", "values": [8e-15,9e-15,2e-14,3e-14,4e-14,5e-14,6e-14,7e-14,8e-14,9e-14,2e-13,3e-13,4e-13,5e-13,6e-13,7e-13,8e-13,9e-13,2e-12,3e-12,4e-12,5e-12,6e-12], "tickSize": -8, "tickWidth": 2.5, "tickColor": "black", "labels": false, "title": null}}
}
},
{
"data": {"name": "exp"},
"mark": {"type": "point", "shape": "circle", "size": 150, "fill": "white", "stroke": "#333333", "strokeWidth": 1.2, "opacity": 1, "fillOpacity": 1, "clip": true},
"encoding": {
"x": {"field": "E", "type": "quantitative", "scale": {"domain": [0, 16], "nice": false, "zero": false}, "axis": null},
"y": {"field": "F", "type": "quantitative", "scale": {"type": "log", "domain": [7.05e-15, 6.91e-12], "nice": false}, "axis": null}
}
}
],
"resolve": {"axis": {"x": "independent", "y": "independent"}}
}
